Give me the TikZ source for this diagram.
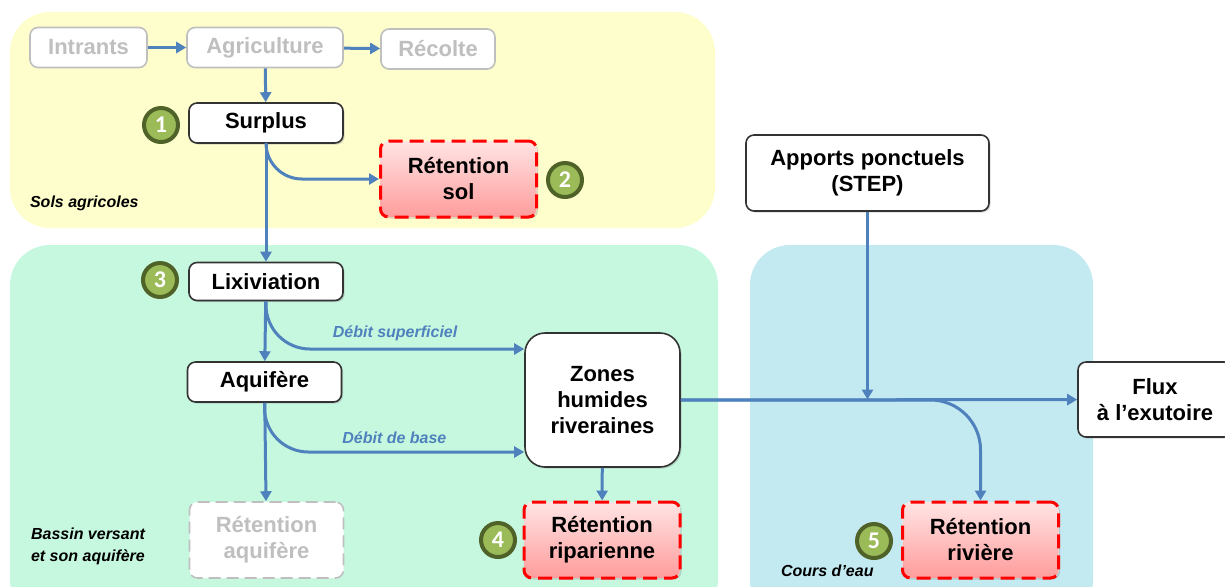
\documentclass[tikz,border=0pt]{standalone}
\usepackage{fontspec}
\setmainfont{Liberation Sans}
\newfontfamily\badgefont{Carlito}
\usetikzlibrary{arrows.meta,shadows}
\definecolor{FlowBlue}{HTML}{4F81BD}
\definecolor{SoilYellow}{HTML}{FEFECC}
\definecolor{BasinGreen}{HTML}{C6F8E0}
\definecolor{RiverBlue}{HTML}{C3E9F1}
\definecolor{BadgeGreen}{HTML}{9BBB59}
\definecolor{BadgeEdge}{HTML}{4F6228}
\definecolor{FadedGray}{HTML}{BFBFBF}
\definecolor{RetTop}{HTML}{FFE4E4}
\definecolor{RetBottom}{HTML}{FF9C9C}

\begin{document}
\begin{tikzpicture}[x=0.5pt, y=-0.5pt,
  zone/.style={rounded corners=20pt},
  boxbase/.style={rounded corners=4pt, fill=white, minimum width=77pt, minimum height=20pt, align=center, font=\fontsize{11}{13}\selectfont\bfseries},
  box/.style={boxbase, draw=black!80, line width=0.8pt, drop shadow={opacity=0.3, shadow xshift=0.8pt, shadow yshift=-0.8pt}},
  faded/.style={boxbase, draw=FadedGray, line width=0.8pt, text=FadedGray},
  retbox/.style={box, draw=red, line width=1.5pt, dash pattern=on 7pt off 3.5pt, top color=RetTop, bottom color=RetBottom, minimum height=38pt, minimum width=78pt},
  badge/.style={circle, fill=BadgeGreen, draw=BadgeEdge, line width=2pt, minimum size=17pt, inner sep=0pt, text=white, font=\badgefont\fontsize{12}{12}\selectfont\bfseries},
  arr/.style={-{Triangle[length=5pt,width=5.5pt]}, line width=1.5pt, FlowBlue},
  flowlabel/.style={font=\fontsize{8}{10}\selectfont\bfseries\itshape, text=FlowBlue},
  regionlabel/.style={font=\fontsize{8}{11}\selectfont\bfseries\itshape, align=left, anchor=west}
]
\useasboundingbox (0,0) rectangle (1225,586);

% background zones
\fill[SoilYellow, zone] (10,12) rectangle (715,228);
\fill[BasinGreen, zone] (10,245) rectangle (718,620);
\fill[RiverBlue, zone] (750,245) rectangle (1093,620);
\node[regionlabel] (solslbl) at (23,203) {Sols agricoles};
\node[regionlabel] (bassinlbl) at (24,546) {Bassin versant\\et son aquifère};
\node[regionlabel] (courslbl) at (774,571) {Cours d’eau};

% soils
\node[faded, minimum width=58.5pt] (intrants) at (88.5,47.5) {Intrants};
\node[faded, minimum width=78pt] (agri) at (265,47.5) {Agriculture};
\node[faded, minimum width=57pt] (recolte) at (438,49) {Récolte};
\node[box] (surplus) at (266,123) {Surplus};
\node[retbox] (retsol) at (458.5,179) {Rétention\\sol};

% basin
\node[box, minimum height=19pt] (lix) at (266,281.5) {Lixiviation};
\node[box] (aquifere) at (264.5,382) {Aquifère};
\node[box, rounded corners=10pt, minimum width=77.5pt, minimum height=67pt] (zones) at (602.5,400) {Zones\\humides\\riveraines};
\node[faded, dash pattern=on 6pt off 3pt, minimum height=38pt] (retaq) at (266.5,540) {Rétention\\aquifère};
\node[retbox] (retrip) at (602,540) {Rétention\\riparienne};

% river
\node[box, minimum width=121.5pt, minimum height=38pt] (apports) at (867.5,173) {Apports ponctuels\\(STEP)};
\node[box, minimum height=37.5pt] (flux) at (1155,399.5) {Flux\\à l’exutoire};
\node[retbox] (retriv) at (980.5,540) {Rétention\\rivière};
\coordinate (junction) at (867.5,399.5);

% badges
\node[badge] (b1) at (161,125) {1};
\node[badge] (b2) at (565,180) {2};
\node[badge] (b3) at (160,280) {3};
\node[badge] (b4) at (498,540) {4};
\node[badge] (b5) at (874,541) {5};

% flows
\draw[arr] (intrants) -- (agri);
\draw[arr] (agri) -- (recolte);
\draw[arr] (agri) -- (surplus);
\draw[arr] (surplus) -- (lix);
\draw[arr, rounded corners=18pt] (surplus.south) |- (retsol.west);
\draw[arr] (lix) -- (aquifere);
\draw[arr, rounded corners=22pt] (lix.south) |- node[flowlabel, pos=0.75, above] {Débit superficiel} ([yshift=25.5pt]zones.west);
\draw[arr, rounded corners=22pt] (aquifere.south) |- node[flowlabel, pos=0.75, above] {Débit de base} ([yshift=-26pt]zones.west);
\draw[arr] (aquifere) -- (retaq);
\draw[arr] (zones) -- (retrip);
\draw[arr] (zones) -- (flux);
\draw[arr] (apports) -- (junction);
\draw[arr, rounded corners=25pt] (zones.east) -| (retriv.north);
\end{tikzpicture}
\end{document}
